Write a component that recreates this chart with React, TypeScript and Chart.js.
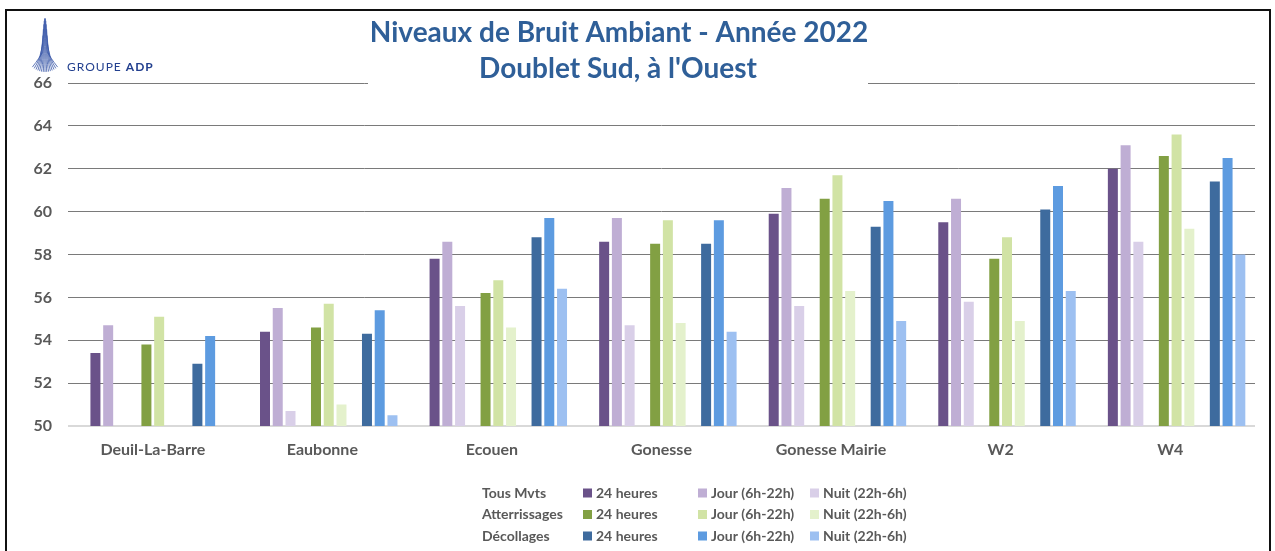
import React, { useEffect, useRef } from "react";
import { Chart, registerables } from "chart.js";

Chart.register(...registerables);

const categories = ["Deuil-La-Barre", "Eaubonne", "Ecouen", "Gonesse", "Gonesse Mairie", "W2", "W4"];
const yMin = 50;
const yMax = 66;
const yStep = 2;

const tous24 = [53.4, 54.4, 57.8, 58.6, 59.9, 59.5, 62.0];
const tousJour = [54.7, 55.5, 58.6, 59.7, 61.1, 60.6, 63.1];
const tousNuit = [null, 50.7, 55.6, 54.7, 55.6, 55.8, 58.6];
const att24 = [53.8, 54.6, 56.2, 58.5, 60.6, 57.8, 62.6];
const attJour = [55.1, 55.7, 56.8, 59.6, 61.7, 58.8, 63.6];
const attNuit = [null, 51.0, 54.6, 54.8, 56.3, 54.9, 59.2];
const dec24 = [52.9, 54.3, 58.8, 58.5, 59.3, 60.1, 61.4];
const decJour = [54.2, 55.4, 59.7, 59.6, 60.5, 61.2, 62.5];
const decNuit = [null, 50.5, 56.4, 54.4, 54.9, 56.3, 58.0];

const groupLabels = ["Tous Mvts", "Atterrissages", "Décollages"];
const periodLabels = ["24 heures", "Jour (6h-22h)", "Nuit (22h-6h)"];
const titleLines = ["Niveaux de Bruit Ambiant - Année 2022", "Doublet Sud, à l'Ouest"];

const tousColors = ["#6A5289", "#BFAED4", "#D9CFE8"];
const attColors = ["#82A043", "#D1E3A5", "#E4F1CC"];
const decColors = ["#3E6B9E", "#5D9BE0", "#9DC0F1"];

const FONT = "Lato, 'Open Sans', sans-serif";
const GREY = "#595959";

const groups = [
  { label: groupLabels[0], series: [tous24, tousJour, tousNuit], colors: tousColors },
  { label: groupLabels[1], series: [att24, attJour, attNuit], colors: attColors },
  { label: groupLabels[2], series: [dec24, decJour, decNuit], colors: decColors },
];

function buildDatasets() {
  const ds: any[] = [];
  groups.forEach((g, gi) => {
    ds.push({ label: "spacer" + gi, data: categories.map(() => null), backgroundColor: "transparent" });
    g.series.forEach((s, si) => {
      ds.push({
        label: g.label + " " + periodLabels[si],
        data: s,
        backgroundColor: g.colors[si],
        borderWidth: 0,
      });
    });
  });
  return ds;
}

const decorPlugin = {
  id: "decor",
  afterDraw(chart: any) {
    const ctx = chart.ctx as CanvasRenderingContext2D;
    ctx.save();
    // frame
    ctx.strokeStyle = "#111";
    ctx.lineWidth = 2;
    ctx.beginPath();
    ctx.moveTo(6, 560);
    ctx.lineTo(6, 10);
    ctx.lineTo(1270, 10);
    ctx.lineTo(1270, 560);
    ctx.stroke();

    // white box behind title over top gridline
    ctx.fillStyle = "#fff";
    ctx.fillRect(368, 78, 500, 10);

    // title
    ctx.fillStyle = "#2F5F98";
    ctx.font = `bold 28px ${FONT}`;
    ctx.textAlign = "center";
    ctx.textBaseline = "middle";
    ctx.fillText(titleLines[0], 619, 33);
    ctx.fillText(titleLines[1], 618, 69);

    // logo
    ctx.strokeStyle = "#3A58A8";
    ctx.lineWidth = 0.8;
    for (let i = -7; i <= 7; i++) {
      const bx = 45 + i * 1.8;
      const by = 72 - i * i * 0.1;
      const tx = 45 + i * 0.4;
      const ty = 18 + i * i * 0.7;
      ctx.beginPath();
      ctx.moveTo(bx, by);
      ctx.quadraticCurveTo(45 + i * 0.7, by - 10, tx, ty);
      ctx.stroke();
    }
    ctx.fillStyle = "#23408F";
    ctx.textAlign = "left";
    ctx.textBaseline = "alphabetic";
    (ctx as any).letterSpacing = "1px";
    ctx.font = `12px ${FONT}`;
    ctx.fillText("GROUPE", 67, 71);
    const w = ctx.measureText("GROUPE ").width;
    ctx.font = `bold 12px ${FONT}`;
    ctx.fillText("ADP", 67 + w, 71);
    (ctx as any).letterSpacing = "0px";

    // legend
    const rowsY = [493, 514.5, 536];
    const sqX = [583, 698, 810];
    ctx.font = `bold 14px ${FONT}`;
    ctx.textBaseline = "middle";
    groups.forEach((g, gi) => {
      const y = rowsY[gi];
      ctx.fillStyle = GREY;
      ctx.fillText(g.label, 482, y);
      g.colors.forEach((c, ci) => {
        ctx.fillStyle = c;
        ctx.fillRect(sqX[ci], y - 4.5, 9, 9);
        ctx.fillStyle = GREY;
        ctx.fillText(periodLabels[ci], sqX[ci] + 13, y);
      });
    });
    ctx.restore();
  },
};

export default function App() {
  const ref = useRef<HTMLCanvasElement | null>(null);
  useEffect(() => {
    if (!ref.current) return;
    const chart = new Chart(ref.current, {
      type: "bar",
      data: { labels: categories, datasets: buildDatasets() },
      options: {
        animation: false,
        responsive: false,
        devicePixelRatio: 1,
        layout: { padding: { left: 8, right: 20, top: 83, bottom: 0 } },
        datasets: { bar: { categoryPercentage: 0.902, barPercentage: 0.784 } },
        plugins: { legend: { display: false }, title: { display: false }, tooltip: { enabled: false } },
        scales: {
          x: {
            grid: { display: false },
            border: { display: false },
            ticks: { color: GREY, padding: 6, font: { family: FONT, weight: "bold", size: 16 } },
            afterFit(scale: any) {
              scale.height = 125;
            },
          },
          y: {
            min: yMin,
            max: yMax,
            border: { display: false },
            grid: {
              drawTicks: false,
              color: (c: any) => (c.tick && c.tick.value === yMin ? "#D9D9D9" : "#7A7A7A"),
              lineWidth: (c: any) => (c.tick && c.tick.value === yMin ? 2 : 1),
            },
            ticks: { stepSize: yStep, color: GREY, padding: 16, font: { family: FONT, weight: "bold", size: 16 } },
            afterFit(scale: any) {
              scale.width = 60;
            },
          },
        },
      },
      plugins: [decorPlugin],
    } as any);
    return () => chart.destroy();
  }, []);
  return (
    <div style={{ position: "absolute", left: 0, top: 0, width: 1275, height: 551, background: "#fff" }}>
      <canvas ref={ref} width={1275} height={551} style={{ width: 1275, height: 551, display: "block" }} />
    </div>
  );
}
